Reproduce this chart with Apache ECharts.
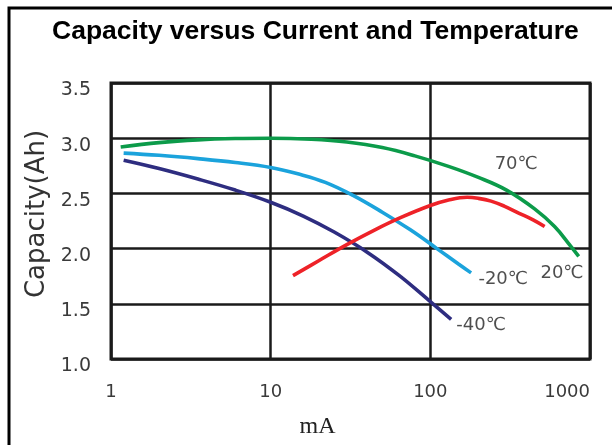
<!DOCTYPE html>
<html>
<head>
<meta charset="utf-8">
<script src="https://cdn.jsdelivr.net/npm/echarts@6/dist/echarts.min.js"></script>
<style>
html,body{margin:0;padding:0;background:#fff;}
#c{width:612px;height:445px;}
</style>
</head>
<body>
<div id="c"></div>
<script>
// Data (current in mA, capacity in Ah)
const xTickLabels = ['1', '10', '100', '1000'];
const yTickLabels = ['1.0', '1.5', '2.0', '2.5', '3.0', '3.5'];

const t70_current  = [1.15, 2, 3.5, 6, 10, 18, 30, 50, 80, 130, 200, 300, 450, 600, 750, 850];
const t70_capacity = [2.92, 2.96, 2.985, 2.997, 3.0, 2.99, 2.965, 2.915, 2.84, 2.745, 2.645, 2.53, 2.36, 2.20, 2.03, 1.93];

const tm20_current  = [1.2, 2, 3.5, 6, 10, 15, 22, 33, 50, 75, 110, 150, 180];
const tm20_capacity = [2.865, 2.845, 2.815, 2.78, 2.735, 2.675, 2.60, 2.48, 2.33, 2.17, 2.0, 1.86, 1.78];

const tm40_current  = [1.2, 2, 3.5, 6, 10, 16, 25, 40, 64, 100, 135];
const tm40_capacity = [2.80, 2.725, 2.63, 2.53, 2.42, 2.295, 2.15, 1.97, 1.755, 1.52, 1.36];

const t20_current  = [13.8, 20, 30, 45, 65, 100, 130, 170, 200, 240, 290, 360, 440, 520];
const t20_capacity = [1.755, 1.89, 2.036, 2.17, 2.28, 2.39, 2.44, 2.465, 2.455, 2.43, 2.385, 2.32, 2.26, 2.20];

const curveLabels   = ['70\u2103', '20\u2103', '-20\u2103', '-40\u2103'];
const curveLabelX   = [345, 668, 286, 208];
const curveLabelY   = [2.764, 1.773, 1.718, 1.309];

const pairs = (xs, ys) => xs.map((x, i) => [x, ys[i]]);

const chart = echarts.init(document.getElementById('c'), null, {renderer: 'canvas'});

function lineSeries(name, xs, ys, color) {
  return {
    name: name,
    type: 'line',
    data: pairs(xs, ys),
    smooth: 0.4,
    symbol: 'none',
    lineStyle: {color: color, width: 3.6},
    z: 3
  };
}

chart.setOption({
  backgroundColor: '#fff',
  animation: false,
  title: {
    text: 'Capacity versus Current and Temperature',
    left: 47,
    top: 13,
    textStyle: {
      fontFamily: 'Liberation Sans, Arial, sans-serif',
      fontWeight: 'bold',
      fontSize: 26.5,
      color: '#000'
    }
  },
  graphic: [{
    type: 'rect',
    shape: {x: 9, y: 8, width: 700, height: 600},
    style: {fill: 'none', stroke: '#000', lineWidth: 3},
    z: -10
  }],
  grid: {
    left: 111, right: 22, top: 83, bottom: 86,
    show: true,
    borderColor: '#1a1a1a',
    borderWidth: 3,
    backgroundColor: '#fff'
  },
  xAxis: {
    type: 'log',
    logBase: 10,
    min: 1,
    max: 1000,
    name: 'mA',
    nameLocation: 'middle',
    nameGap: 56,
    nameTextStyle: {
      fontFamily: 'Liberation Serif, Times New Roman, serif',
      fontSize: 24,
      color: '#222',
      padding: [0, 66, 0, 0]
    },
    axisLine: {show: false},
    axisTick: {show: false},
    axisLabel: {
      margin: 24,
      fontFamily: 'DejaVu Sans, sans-serif',
      fontSize: 18,
      color: '#3a3a3a',
      alignMaxLabel: 'right',
      formatter: (v) => xTickLabels[Math.round(Math.log10(v))]
    },
    splitLine: {show: true, lineStyle: {color: '#1a1a1a', width: 2.5}}
  },
  yAxis: {
    type: 'value',
    min: 1.0,
    max: 3.5,
    interval: 0.5,
    name: 'Capacity(Ah)',
    nameLocation: 'middle',
    nameRotate: 90,
    nameGap: 59,
    nameTextStyle: {
      fontFamily: 'DejaVu Sans, sans-serif',
      fontSize: 26,
      color: '#333',
      padding: [0, 0, 0, 14]
    },
    axisLine: {show: false},
    axisTick: {show: false},
    axisLabel: {
      margin: 20,
      fontFamily: 'DejaVu Sans, sans-serif',
      fontSize: 19,
      color: '#3a3a3a',
      verticalAlign: 'top',
      lineHeight: 15,
      formatter: (v) => yTickLabels[Math.round((v - 1) / 0.5)]
    },
    splitLine: {show: true, lineStyle: {color: '#1a1a1a', width: 2.5}}
  },
  series: [
    lineSeries('70\u2103', t70_current, t70_capacity, '#0c9b4a'),
    lineSeries('-20\u2103', tm20_current, tm20_capacity, '#1ba3dc'),
    lineSeries('-40\u2103', tm40_current, tm40_capacity, '#2e2d80'),
    lineSeries('20\u2103', t20_current, t20_capacity, '#ee2228'),
    {
      type: 'scatter',
      symbolSize: 0,
      silent: true,
      data: curveLabels.map((t, i) => ({name: t, value: [curveLabelX[i], curveLabelY[i]]})),
      label: {
        show: true,
        position: 'inside',
        formatter: (p) => p.name,
        fontFamily: 'DejaVu Sans, sans-serif',
        fontSize: 18,
        color: '#222'
      },
      z: 4
    }
  ]
});
</script>
</body>
</html>
